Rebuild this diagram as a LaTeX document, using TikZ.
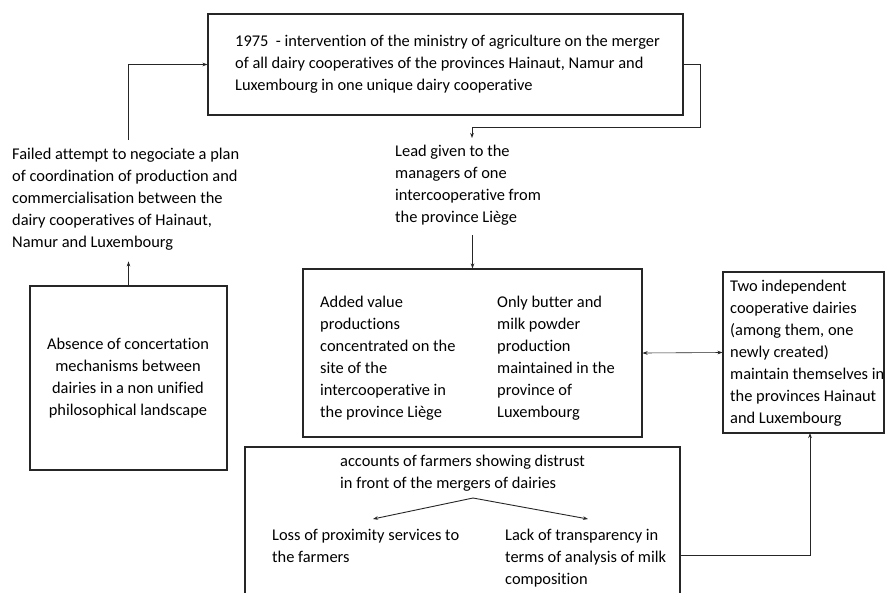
\documentclass[tikz,border=0pt]{standalone}
\usepackage{fontspec}
\setmainfont{Carlito}[Ligatures={NoCommon}]
\usetikzlibrary{arrows.meta}
\newcommand{\bodytext}{\fontsize{16.4}{22}\selectfont}
\tikzset{
  box/.style={draw=black!85, line width=1.1pt, inner sep=0pt, fill=none},
  txt/.style={inner sep=0pt, align=left, anchor=north west, font=\bodytext, text=black},
  link/.style={draw=black!85, line width=0.9pt, -{Stealth[length=5pt,width=3.6pt]}},
  twoway/.style={draw=black!85, line width=0.6pt, {Stealth[length=5pt,width=3.6pt]}-{Stealth[length=5pt,width=3.6pt]}}
}
\begin{document}
\begin{tikzpicture}[x=1pt,y=-1pt]
\useasboundingbox (0,0) rectangle (885,592);
\clip (0,0) rectangle (885,592);
\fill[white] (0,0) rectangle (885,592);

% boxes
\node[box, minimum width=475pt, minimum height=101pt] (top) at (445.5,64.5) {};
\node[box, minimum width=197pt, minimum height=184pt] (absence) at (128.5,378) {};
\node[box, minimum width=339pt, minimum height=168pt] (mid) at (472.5,353) {};
\node[box, minimum width=161pt, minimum height=161pt] (right) at (803.5,352.5) {};
\node[box, minimum width=435pt, minimum height=160pt] (bottom) at (462.5,527) {};

% texts
\node[txt] (toptext) at (235,35) {1975\ \ - intervention of the ministry of agriculture on the merger\\of all dairy cooperatives of the provinces Hainaut, Namur and\\Luxembourg in one unique dairy cooperative};
\node[txt] (fail) at (12,148) {Failed attempt to negociate a plan\\of coordination of production and\\commercialisation between the\\dairy cooperatives of Hainaut,\\Namur and Luxembourg};
\node[inner sep=0pt, align=center, font=\bodytext, text=black] (abstext) at (128,378) {Absence of concertation\\mechanisms between\\dairies in a non unified\\philosophical landscape};
\node[txt] (lead) at (395,145) {Lead given to the\\managers of one\\intercooperative from\\the province Liège};
\node[txt] (midL) at (320,296) {Added value\\productions\\concentrated on the\\site of the\\intercooperative in\\the province Liège};
\node[txt] (midR) at (497,296) {Only butter and\\milk powder\\production\\maintained in the\\province of\\Luxembourg};
\node[txt] (righttext) at (730,280) {Two independent\\cooperative dairies\\(among them, one\\newly created)\\maintain themselves in\\the provinces Hainaut\\and Luxembourg};
\node[txt] (accounts) at (340,455) {accounts of farmers showing distrust\\in front of the mergers of dairies};
\node[txt] (loss) at (272,529) {Loss of proximity services to\\the farmers};
\node[txt] (lack) at (505,529) {Lack of transparency in\\terms of analysis of milk\\composition};

% connector end points
\coordinate (failtop) at (128,140);
\coordinate (bendA) at (700,127);
\coordinate (leadin) at (472,138);
\coordinate (leadout) at (472.5,235);
\coordinate (split) at (473,498);
\coordinate (tipL) at (373,519);
\coordinate (tipR) at (588,519);
\coordinate (riseX) at (810,433);

% connectors
\draw[link] (absence.north) -- ++(0,-24);
\draw[link] (failtop) |- (top.west);
\draw[link] (top.east) -| (bendA) -| (leadin);
\draw[link] (leadout) -- (mid.north);
\draw[twoway] (mid.east) -- (right.west);
\draw[link] (split) -- (tipL);
\draw[link] (split) -- (tipR);
\draw[link] (bottom.east |- 0,555) -| (riseX);
\end{tikzpicture}
\end{document}
